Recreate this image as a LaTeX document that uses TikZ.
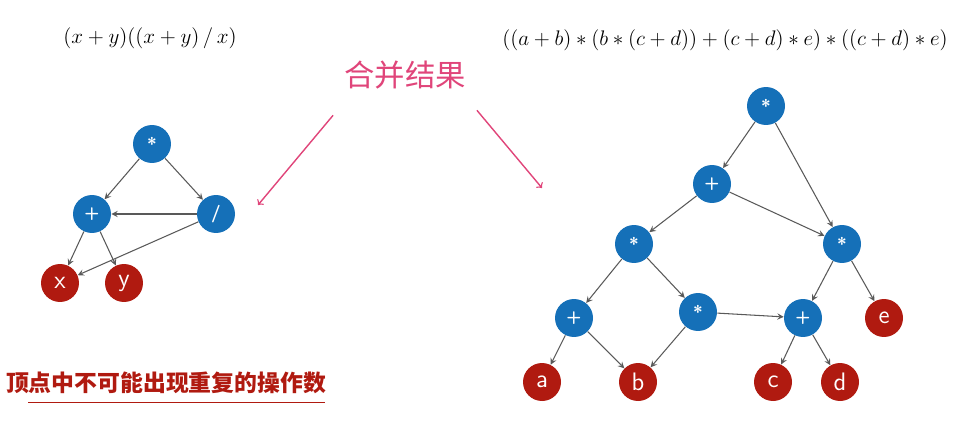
\documentclass[tikz,border=0pt]{standalone}
\usepackage{fontspec}
\newfontfamily\cjk{Noto Sans CJK SC}
\usepackage{tikz}
\usetikzlibrary{calc}
\definecolor{opblue}{HTML}{1570B8}
\definecolor{varred}{HTML}{B01A10}
\definecolor{notepink}{HTML}{E0457A}
\tikzset{
  op/.style={circle,fill=opblue,text=white,minimum size=0.76cm,inner sep=0pt,font=\sffamily\bfseries},
  var/.style={circle,fill=varred,text=white,minimum size=0.76cm,inner sep=0pt,font=\sffamily\Large},
  edge/.style={->,>=stealth,draw=black!65,semithick}
}
\begin{document}
\begin{tikzpicture}[x=0.02cm,y=-0.02cm]
  \useasboundingbox (0,0) rectangle (972,422);
  % formulas
  \node (F1) at (150,38) {\large$(x+y)((x+y)\,/\,x)$};
  \node (F2) at (725,40) {\large$((a+b)*(b*(c+d))+(c+d)*e)*((c+d)*e)$};
  % left DAG
  \node[op] (L0) at (152,144) {*};
  \node[op] (L1) at (92,214) {+};
  \node[op] (L2) at (216,214) {/};
  \node[var] (Lx) at (60,283) {x};
  \node[var] (Ly) at (124,283) {y};
  \draw[edge] (L0) to (L1);
  \draw[edge] (L0) to (L2);
  \draw[edge] (L2) to (L1);
  \draw[edge] (L1) to (Lx);
  \draw[edge] (L1) to (Ly);
  \draw[edge] (L2) to (Lx);
  % right DAG
  \node[op] (R0) at (766,106) {*};
  \node[op] (R1) at (712,184) {+};
  \node[op] (R2) at (842,244) {*};
  \node[op] (R3) at (634,244) {*};
  \node[op] (R4) at (574,318) {+};
  \node[op] (R5) at (698,312) {*};
  \node[op] (R6) at (803,318) {+};
  \node[var] (Re) at (884,318) {e};
  \node[var] (Ra) at (542,382) {a};
  \node[var] (Rb) at (638,382) {b};
  \node[var] (Rc) at (773,382) {c};
  \node[var] (Rd) at (840,382) {d};
  \draw[edge] (R0) to (R1);
  \draw[edge] (R0) to (R2);
  \draw[edge] (R1) to (R3);
  \draw[edge] (R1) to (R2);
  \draw[edge] (R3) to (R4);
  \draw[edge] (R3) to (R5);
  \draw[edge] (R4) to (Ra);
  \draw[edge] (R4) to (Rb);
  \draw[edge] (R5) to (Rb);
  \draw[edge] (R5) to (R6);
  \draw[edge] (R2) to (R6);
  \draw[edge] (R2) to (Re);
  \draw[edge] (R6) to (Rc);
  \draw[edge] (R6) to (Rd);
  % note
  \node[text=notepink,font=\cjk\LARGE] (Merge) at (405,75) {合并结果};
  \coordinate (ML) at (258,205);
  \coordinate (MR) at (542,188);
  \draw[->,notepink,thick] ($(Merge.south west)+(-5,20)$) to (ML);
  \draw[->,notepink,thick] ($(Merge.south east)+(5,15)$) to (MR);
  \node[text=varred,font=\cjk\fontsize{13}{15}\selectfont\bfseries] (Note) at (166,383) {顶点中不可能出现重复的操作数};
  \draw[varred] (28,402) -- (325,402);
\end{tikzpicture}
\end{document}
